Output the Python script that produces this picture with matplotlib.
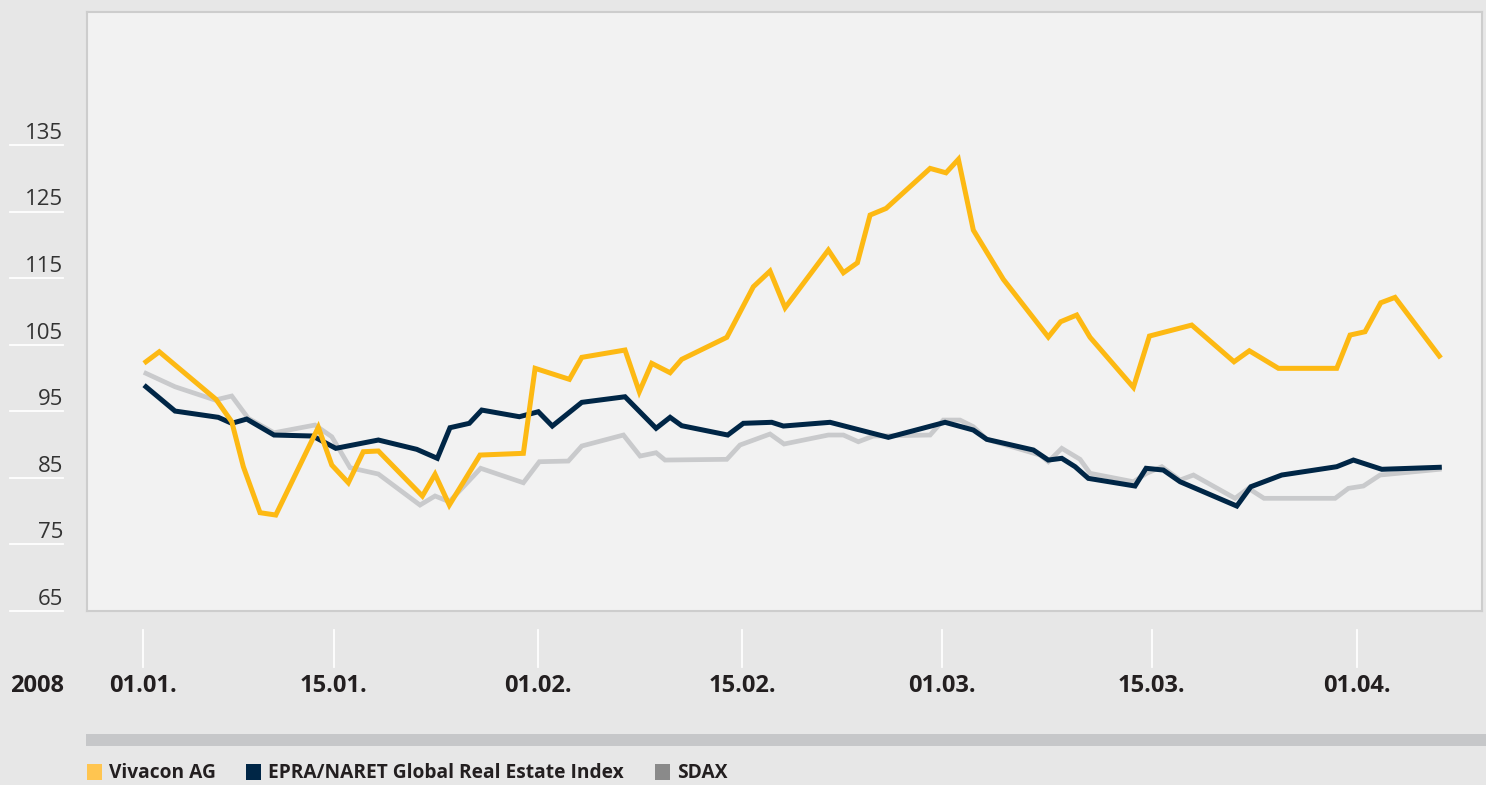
import matplotlib
matplotlib.use("Agg")
import matplotlib.pyplot as plt
from matplotlib import transforms
from matplotlib.patches import Rectangle

plt.rcParams['font.family'] = ['Open Sans', 'DejaVu Sans']

# --- data (x in days-ish units from 01.01., y = index value) ---
viv_x = [0.22, 1.22, 5.47, 6.65, 7.52, 8.77, 9.95, 13.14, 14.15, 15.39, 16.51, 17.64,
         20.94, 21.89, 22.96, 25.26, 28.51, 29.39, 31.96, 32.89, 36.13, 37.20, 38.13,
         39.51, 40.38, 43.76, 45.75, 47.00, 48.13, 51.37, 52.50, 53.55, 54.50, 55.70,
         59.00, 60.19, 61.12, 62.24, 64.49, 67.86, 68.78, 69.99, 70.99, 74.24, 75.44,
         78.61, 81.78, 82.93, 85.11, 89.48, 90.48, 91.60, 92.78, 93.85, 97.17]
viv_y = [102.45, 103.95, 96.80, 93.44, 86.68, 79.77, 79.42, 92.60, 86.93, 84.27, 88.93, 89.04,
         82.28, 85.54, 80.92, 88.43, 88.69, 101.46, 99.81, 103.11, 104.21, 97.94, 102.21,
         100.80, 102.81, 106.12, 113.72, 116.07, 110.56, 119.23, 115.82, 117.32, 124.49, 125.49,
         131.50, 130.84, 132.86, 122.23, 114.83, 106.16, 108.46, 109.47, 106.12, 98.60, 106.31,
         107.96, 102.45, 104.10, 101.46, 101.46, 106.46, 106.96, 111.31, 112.12, 103.31]

epra_x = [0.22, 2.40, 5.64, 6.65, 7.77, 9.82, 12.72, 14.45, 17.64, 20.52, 22.06, 23.01,
          24.46, 25.39, 28.21, 29.63, 30.68, 32.89, 36.13, 38.46, 39.51, 40.38, 43.83,
          45.00, 47.13, 48.00, 51.50, 55.87, 60.12, 62.24, 63.25, 66.74, 67.86, 68.87,
          69.87, 70.86, 74.36, 75.19, 76.48, 77.74, 81.99, 83.04, 85.36, 89.48, 90.73,
          92.86, 97.17]
epra_y = [98.69, 95.04, 94.10, 93.20, 93.84, 91.44, 91.29, 89.44, 90.69, 89.29, 87.94, 92.54,
          93.20, 95.19, 94.19, 94.94, 92.79, 96.35, 97.19, 92.45, 94.10, 92.84, 91.44,
          93.20, 93.35, 92.79, 93.35, 91.09, 93.35, 92.19, 90.79, 89.19, 87.68, 87.94,
          86.68, 84.93, 83.78, 86.44, 86.18, 84.42, 80.77, 83.67, 85.43, 86.68, 87.68,
          86.29, 86.59]

sdax_x = [0.22, 2.40, 5.40, 6.65, 7.89, 9.82, 12.89, 14.15, 15.52, 17.64, 20.76, 21.89,
          22.96, 25.31, 28.51, 29.71, 31.88, 32.89, 36.01, 37.26, 38.46, 39.13, 43.76,
          44.75, 47.00, 48.05, 51.37, 52.50, 53.62, 54.75, 59.00, 59.99, 61.24, 62.24,
          63.25, 67.24, 67.86, 68.87, 70.24, 70.99, 74.24, 75.24, 76.37, 77.74, 78.74,
          81.86, 82.86, 84.03, 89.36, 90.36, 91.48, 92.73, 97.17]
sdax_y = [100.71, 98.69, 96.70, 97.30, 93.95, 91.78, 92.94, 91.18, 86.53, 85.58, 80.92, 82.28,
          81.42, 86.44, 84.27, 87.43, 87.53, 89.79, 91.44, 88.28, 88.78, 87.68, 87.79,
          89.94, 91.59, 90.09, 91.44, 91.44, 90.43, 91.29, 91.44, 93.69, 93.69, 92.69,
          90.79, 88.43, 87.43, 89.44, 87.79, 85.69, 84.42, 85.69, 86.68, 84.68, 85.43,
          81.93, 83.43, 81.93, 81.93, 83.43, 83.78, 85.43, 86.29]

y_ticks = [65, 75, 85, 95, 105, 115, 125, 135]
x_tick_pos = [0, 14.3, 29.6, 44.9, 59.9, 75.6, 91.0]
x_tick_labels = ["01.01.", "15.01.", "01.02.", "15.02.", "01.03.", "15.03.", "01.04."]
year_label = "2008"
series_names = ["Vivacon AG", "EPRA/NARET Global Real Estate Index", "SDAX"]

YELLOW = "#fdb913"
NAVY = "#002646"
GREY = "#c9cacc"

W, H = 1486, 785
fig = plt.figure(figsize=(W / 100, H / 100), dpi=100, facecolor="#e7e7e7")
ax = fig.add_axes([87 / W, 1 - 611 / H, (1482 - 87) / W, (611 - 12) / H])
ax.set_facecolor("#f2f2f2")
for s in ax.spines.values():
    s.set_color("#cdcdcd")
    s.set_linewidth(1.5)
ax.set_xlim(-4.20, 100.37)
ax.set_ylim(65, 155)
ax.set_xticks([])
ax.set_yticks([])

ax.plot(sdax_x, sdax_y, color=GREY, lw=3.4, solid_joinstyle="miter", zorder=2)
ax.plot(epra_x, epra_y, color=NAVY, lw=3.6, solid_joinstyle="miter", zorder=3)
ax.plot(viv_x, viv_y, color=YELLOW, lw=3.6, solid_joinstyle="miter", zorder=4)

# y labels with white underline, outside the plot
ty = transforms.blended_transform_factory(fig.transFigure, ax.transData)
for v in y_ticks:
    ax.plot([10 / W, 63 / W], [v, v], transform=ty, color="white", lw=1.3, clip_on=False)
    ax.annotate(str(v), xy=(63 / W, v), xycoords=ty, xytext=(0, 4.5), textcoords="offset points",
                ha="right", va="baseline", fontsize=16, color="#333333", annotation_clip=False)

# x tick marks and labels
tx = transforms.blended_transform_factory(ax.transData, fig.transFigure)
for p, lab in zip(x_tick_pos, x_tick_labels):
    ax.plot([p, p], [1 - 630 / H, 1 - 667 / H], transform=tx, color="white", lw=1.3, clip_on=False)
    ax.text(p, 1 - 686 / H, lab, transform=tx, ha="center", va="center",
            fontsize=17, fontweight="bold", color="#231f20")
fig.text(37 / W, 1 - 686 / H, year_label, ha="center", va="center",
         fontsize=17, fontweight="bold", color="#231f20")

# legend strip
fig.add_artist(Rectangle((86 / W, 1 - 746 / H), 1 - 86 / W, 12 / H,
                         transform=fig.transFigure, color="#c6c7c9", lw=0))
leg_colors = ["#ffc550", NAVY, "#8a8a8a"]
leg_x = [87, 246, 655]
for name, c, lx in zip(series_names, leg_colors, leg_x):
    fig.add_artist(Rectangle((lx / W, 1 - 780 / H), 15 / W, 16 / H,
                             transform=fig.transFigure, color=c, lw=0))
    fig.text((lx + 22) / W, 1 - 773 / H, name, ha="left", va="center",
             fontsize=13.8, fontweight="bold", color="#231f20")

fig.savefig("out.png", dpi=100, facecolor=fig.get_facecolor())
